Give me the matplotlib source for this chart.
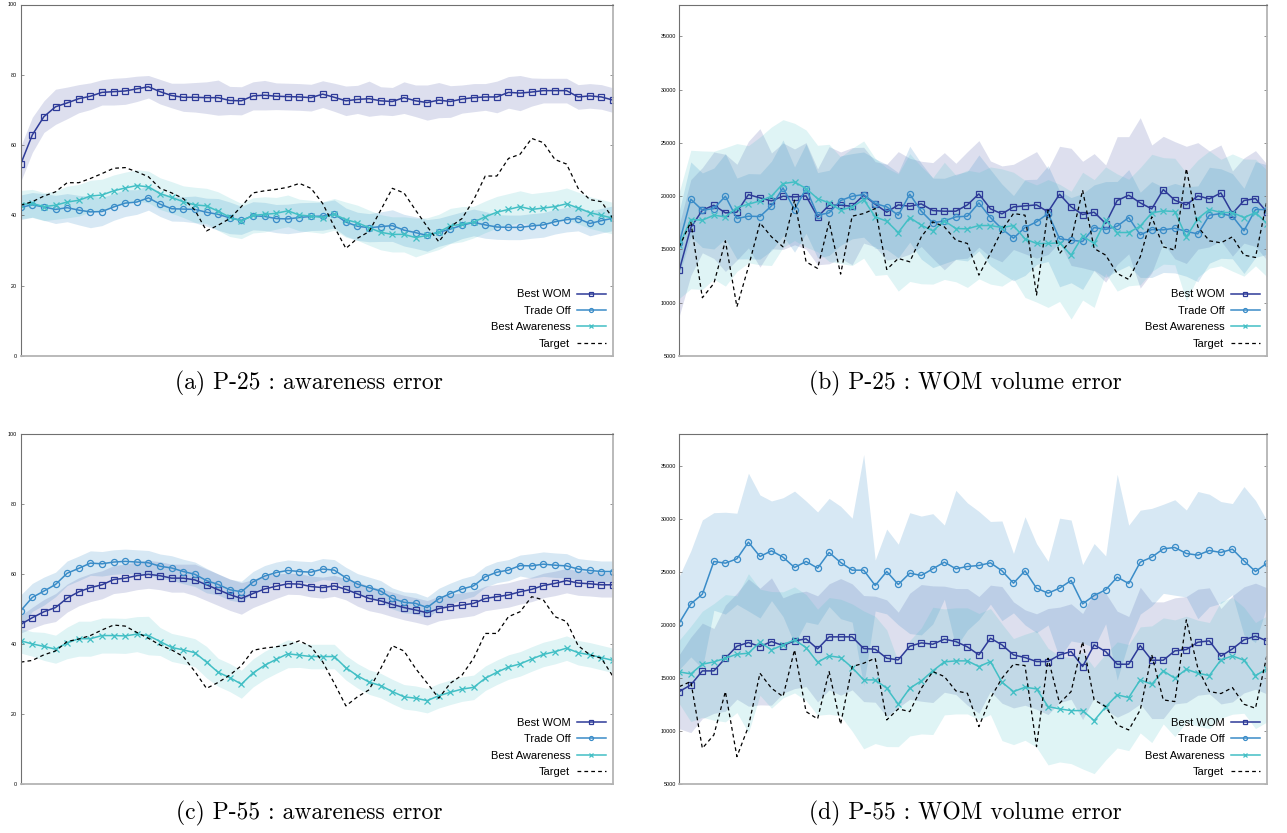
import matplotlib.pyplot as plt
import numpy as np

plt.rcParams['font.family'] = 'Liberation Sans'
plt.rcParams['font.size'] = 8
plt.rcParams['axes.linewidth'] = 0.8

steps = np.arange(52)

# ---- (a) P-25 : awareness error
a_wom = [54.6, 62.9, 68.1, 70.9, 72.0, 73.2, 73.9, 75.0, 75.2, 75.4, 76.0, 76.6, 75.2, 74.1, 73.6, 73.6, 73.5, 73.5, 72.7, 72.6,
         74.0, 74.2, 73.9, 73.8, 73.7, 73.5, 74.5, 73.6, 72.6, 73.0, 73.2, 72.6, 72.4, 73.5, 72.6, 72.1, 72.8, 72.4, 73.1, 73.5,
         73.7, 73.7, 75.0, 74.8, 75.1, 75.5, 75.5, 75.5, 73.7, 74.0, 73.7, 72.8]
a_trade = [42.3, 43.0, 42.4, 41.7, 42.2, 41.5, 41.0, 41.1, 42.4, 43.5, 43.8, 45.0, 43.2, 41.9, 41.8, 41.7, 40.9, 40.3, 39.3, 38.6,
           39.9, 39.7, 39.1, 39.0, 39.4, 39.7, 39.8, 40.4, 38.1, 36.9, 36.5, 36.8, 37.1, 35.8, 35.1, 34.3, 35.2, 36.1, 37.2, 38.0,
           37.3, 36.7, 36.6, 36.6, 37.0, 37.3, 38.2, 38.8, 39.1, 37.7, 38.5, 39.2]
a_aware = [43.1, 43.4, 42.5, 42.9, 43.8, 44.3, 45.5, 45.8, 47.0, 47.8, 48.5, 48.1, 46.2, 45.1, 43.9, 43.0, 42.7, 41.2, 39.5, 38.4,
           40.0, 40.3, 40.6, 41.3, 40.1, 39.8, 39.4, 40.3, 38.8, 37.9, 36.5, 35.2, 34.6, 34.6, 33.7, 34.3, 35.3, 37.0, 37.5, 38.1,
           39.6, 40.9, 41.7, 42.5, 41.7, 42.1, 42.5, 43.3, 42.1, 40.8, 40.0, 39.2]
a_target = [42.9, 43.9, 45.5, 46.7, 49.3, 49.3, 50.5, 51.9, 53.4, 53.6, 52.4, 51.0, 47.7, 46.4, 44.8, 41.5, 35.6, 37.2, 39.1, 42.5,
            46.4, 47.0, 47.4, 48.0, 49.1, 47.7, 43.4, 36.8, 30.6, 33.5, 35.4, 41.5, 47.7, 46.4, 41.5, 36.8, 32.5, 36.8, 39.1, 44.4,
            51.2, 51.2, 56.2, 57.4, 61.9, 60.7, 55.9, 54.6, 47.7, 44.5, 43.9, 39.1]
a_wom_sd = [5.0, 5.0, 4.5, 5.0, 4.5, 4.0, 3.8, 3.6, 3.8, 3.8, 3.6, 3.2, 3.5, 3.5, 4.0, 4.2, 4.5, 5.0, 4.0, 4.0,
            4.0, 4.2, 3.8, 3.8, 3.8, 3.8, 3.8, 4.0, 4.2, 4.0, 5.0, 4.0, 4.0, 4.5, 4.5, 5.0, 5.0, 4.5, 4.0, 4.0,
            3.8, 4.5, 4.5, 5.0, 4.0, 3.5, 3.5, 3.5, 3.5, 3.5, 3.5, 3.5]
a_trade_sd = [3.5, 3.5, 3.8, 4.0, 4.0, 4.2, 4.5, 4.0, 3.8, 3.8, 3.5, 3.5, 3.5, 3.5, 3.5, 3.8, 4.0, 4.5, 4.5, 4.0,
              4.0, 4.0, 4.0, 4.2, 4.2, 4.0, 4.0, 4.0, 4.0, 4.0, 4.0, 4.2, 4.5, 4.5, 4.5, 4.5, 4.0, 4.0, 3.8, 3.8,
              3.8, 3.5, 3.5, 3.5, 3.5, 3.5, 3.5, 3.5, 3.5, 3.5, 3.5, 3.5]
a_aware_sd = [4.0, 4.0, 4.0, 4.0, 4.5, 4.5, 4.5, 4.5, 4.5, 4.5, 4.5, 4.5, 4.5, 4.5, 4.5, 5.0, 5.0, 5.5, 5.5, 5.0,
              5.0, 5.0, 4.5, 4.5, 4.5, 4.5, 4.5, 4.5, 5.0, 5.0, 5.0, 5.0, 5.0, 5.0, 5.5, 5.0, 5.0, 5.0, 5.0, 4.5,
              4.5, 4.5, 4.5, 4.5, 4.5, 4.5, 4.5, 4.5, 4.5, 4.5, 4.5, 4.5]

# ---- (b) P-25 : WOM volume error
b_wom = [13063, 17063, 18688, 19156, 18438, 18500, 20156, 19844, 19563, 20000, 19938, 20031, 18063, 19156, 19156, 19063, 20094,
         19250, 18500, 19188, 19063, 19281, 18656, 18594, 18594, 19188, 20219, 18813, 18344, 19000, 19094, 19188, 18531, 20188,
         19000, 18281, 18500, 17438, 19594, 20094, 19375, 18813, 20625, 19625, 19188, 20031, 19750, 20313, 18375, 19594, 19781, 18500]
b_trade = [15625, 19719, 18688, 18844, 20000, 17906, 18125, 18094, 19094, 20781, 18750, 20719, 18219, 18438, 19594, 20000, 20156,
           19313, 19000, 18219, 20188, 18594, 17500, 17688, 18063, 18125, 19375, 18000, 16938, 16063, 17063, 17594, 18375, 16000,
           15875, 15750, 17063, 16875, 17188, 18000, 16375, 16875, 16844, 17000, 16688, 16469, 18219, 18375, 18125, 16750, 18750, 18750]
b_aware = [15406, 17813, 17750, 18219, 18063, 18938, 19250, 19563, 20000, 21188, 21344, 20719, 19781, 19375, 18688, 19000, 19688,
           18063, 17656, 16594, 18000, 17281, 16750, 17688, 16969, 16938, 17250, 17250, 17063, 17250, 16000, 15563, 15563, 15625,
           14469, 16250, 15563, 17750, 16594, 16594, 17188, 18438, 18625, 18563, 16188, 17906, 18750, 18469, 18469, 18000, 18469, 17438]
b_target = [15250, 17594, 10469, 11813, 15813, 9625, 13375, 17500, 16188, 15250, 19625, 13844, 13219, 17594, 12688, 18125, 18375,
            18844, 13125, 14156, 13844, 16188, 17594, 17125, 15875, 15563, 12594, 14625, 16813, 18375, 18219, 10719, 18688, 14625,
            15875, 20563, 15094, 14469, 12750, 12188, 14313, 18063, 15250, 14938, 22594, 17125, 15813, 15625, 16188, 14469, 14250, 19625]
b_wom_sd = [4300, 4500, 4000, 5000, 5500, 4500, 5000, 6500, 4500, 5000, 4500, 5000, 4500, 5500, 5000, 5500, 4500, 4000, 4500, 5000,
            4500, 4000, 4500, 5500, 4500, 5000, 5000, 4500, 4500, 4000, 4500, 5000, 4000, 4500, 5500, 5000, 5500, 5500, 6000, 5500,
            8000, 6000, 5000, 5500, 5500, 5000, 4500, 4500, 4000, 4000, 4500, 4500]
b_trade_sd = [3000, 3500, 3500, 3800, 4000, 3800, 4000, 4000, 4200, 4500, 4000, 4200, 4000, 4000, 4200, 4000, 4000, 4200, 4000, 4000,
              4500, 4500, 4200, 4000, 4000, 4200, 4500, 4500, 4200, 4000, 4500, 4000, 4500, 4500, 4000, 4500, 4000, 4500, 4200, 4500,
              4000, 4500, 4000, 4200, 4200, 4500, 4500, 4200, 4000, 4000, 4500, 4200]
b_aware_sd = [5000, 6500, 6500, 6000, 6500, 6000, 5500, 6000, 6500, 6000, 5500, 5500, 5000, 5500, 5000, 5500, 5500, 5500, 5000, 5500,
              6000, 5500, 5000, 5500, 5000, 5500, 5000, 5500, 5500, 5000, 5500, 5500, 6000, 5500, 6000, 6000, 6000, 5000, 5500, 5000,
              5500, 5500, 5000, 5000, 6000, 5500, 5500, 5000, 5500, 5500, 5000, 5000]

# ---- (c) P-55 : awareness error
c_wom = [45.7, 47.6, 49.3, 50.5, 53.2, 55.0, 56.2, 57.0, 58.5, 58.9, 59.6, 60.0, 59.6, 58.9, 58.9, 58.4, 57.0, 55.6, 54.2, 53.1,
         54.5, 55.8, 56.6, 57.3, 57.2, 56.5, 56.2, 56.7, 55.7, 54.4, 53.1, 52.4, 51.4, 50.5, 49.8, 49.0, 50.2, 50.8, 51.2, 51.7,
         53.1, 53.6, 54.1, 55.0, 55.7, 56.8, 57.4, 58.2, 57.5, 57.3, 57.0, 57.0]
c_trade = [49.6, 53.4, 55.2, 57.1, 60.3, 61.7, 63.2, 63.0, 63.5, 63.7, 63.5, 63.3, 62.3, 61.8, 60.8, 60.0, 58.2, 57.1, 55.6, 55.0,
           57.8, 59.5, 60.5, 61.1, 60.8, 60.6, 61.5, 61.2, 59.0, 57.2, 56.2, 55.2, 53.1, 52.0, 51.7, 50.5, 53.0, 54.5, 55.8, 56.7,
           59.3, 60.6, 61.2, 62.5, 62.4, 62.9, 62.6, 62.4, 61.5, 61.1, 60.8, 60.8]
c_aware = [41.0, 40.1, 39.4, 38.6, 40.4, 41.6, 41.6, 42.5, 42.5, 42.4, 42.9, 42.5, 40.8, 39.1, 38.4, 37.6, 34.9, 32.0, 30.5, 28.6,
           31.8, 34.0, 35.7, 37.3, 36.9, 36.5, 36.5, 36.5, 33.3, 31.0, 29.2, 28.2, 26.5, 25.0, 24.6, 23.9, 25.3, 26.3, 27.2, 27.7,
           30.3, 32.0, 33.5, 34.4, 35.8, 37.1, 37.9, 38.9, 37.6, 37.0, 36.2, 35.4]
c_target = [34.9, 35.4, 37.0, 38.1, 40.8, 41.5, 42.5, 44.1, 45.5, 45.2, 43.4, 41.7, 39.8, 38.4, 36.5, 32.2, 27.4, 29.1, 31.2, 33.9,
            38.3, 38.9, 39.3, 39.8, 41.0, 39.3, 35.0, 28.9, 22.4, 25.0, 27.0, 33.1, 39.6, 38.1, 33.1, 28.9, 24.6, 28.9, 31.2, 36.0,
            43.1, 43.1, 47.9, 49.3, 53.6, 52.7, 47.9, 46.5, 39.6, 37.0, 36.0, 30.8]
c_wom_sd = [2.5, 3.0, 3.5, 4.0, 4.0, 4.0, 4.0, 4.0, 4.0, 4.0, 4.0, 4.0, 4.0, 4.0, 4.0, 4.5, 4.5, 4.5, 4.5, 4.5,
            4.0, 4.0, 3.5, 3.0, 3.0, 3.0, 3.0, 3.0, 3.0, 3.5, 3.5, 3.5, 3.5, 3.5, 3.5, 3.5, 3.5, 3.5, 3.5, 3.5,
            3.5, 3.5, 3.5, 3.5, 3.5, 3.5, 3.5, 3.5, 3.5, 3.5, 3.5, 3.5]
c_trade_sd = [4.5, 4.0, 4.0, 3.5, 3.5, 3.5, 3.5, 3.5, 3.5, 3.5, 3.5, 3.5, 3.5, 3.5, 3.5, 3.5, 3.5, 3.0, 3.0, 3.0,
              3.0, 3.0, 3.0, 3.0, 3.0, 3.0, 3.0, 3.0, 3.0, 3.0, 3.0, 3.0, 3.0, 3.0, 3.0, 3.0, 3.0, 3.0, 3.0, 3.0,
              3.0, 3.0, 3.0, 3.0, 3.5, 3.5, 3.5, 3.5, 3.0, 3.0, 3.0, 3.0]
c_aware_sd = [3.5, 3.5, 4.0, 4.0, 4.5, 5.0, 5.0, 5.0, 5.0, 5.0, 5.0, 5.5, 4.0, 4.0, 4.0, 4.0, 4.5, 4.0, 4.0, 4.0,
              4.0, 4.0, 4.0, 4.0, 3.5, 3.5, 3.5, 3.5, 3.5, 3.5, 3.5, 3.5, 3.5, 3.5, 3.5, 3.5, 3.5, 3.5, 3.5, 3.5,
              3.5, 3.5, 3.5, 3.5, 3.5, 3.5, 3.5, 3.5, 3.5, 3.5, 3.5, 3.5]

# ---- (d) P-55 : WOM volume error
d_wom = [13743, 14372, 15693, 15693, 16888, 18020, 18366, 17989, 18461, 18083, 18524, 18712, 17769, 18901, 18901, 18901, 17800,
         17737, 16888, 16731, 18020, 18335, 18209, 18681, 18461, 17957, 17203, 18775, 18146, 17203, 16951, 16574, 16574, 17203,
         17517, 16102, 18146, 17517, 16322, 16322, 18083, 16699, 16699, 17580, 17706, 18398, 18524, 17077, 17769, 18618, 18964, 18524]
d_trade = [20222, 22014, 22927, 26009, 25851, 26260, 27833, 26480, 27015, 26417, 25443, 26009, 25380, 26858, 25914, 25191, 25191,
           23744, 25065, 23839, 24908, 24688, 25317, 25946, 25317, 25537, 25631, 25883, 25128, 23964, 25128, 23493, 23021, 23493,
           24216, 22014, 22801, 23335, 24530, 23932, 25946, 26417, 27204, 27330, 26763, 26606, 27046, 26858, 27172, 26072, 25065, 25851]
d_aware = [15598, 15410, 16322, 16542, 16888, 17266, 17360, 18398, 17674, 18146, 18618, 17894, 16511, 17108, 16951, 16008, 14844,
           14844, 14058, 12548, 14058, 14750, 15693, 16542, 16637, 16637, 16102, 16574, 14624, 13743, 14152, 13995, 12328, 12108,
           11950, 11950, 11007, 12296, 13429, 13177, 14844, 14435, 15693, 15001, 15850, 15473, 15253, 16731, 17108, 16699, 15253, 15882]
d_target = [14215, 14687, 8397, 9655, 13743, 7610, 10441, 15473, 14058, 13271, 17674, 11856, 11164, 15630, 10661, 16102, 16417,
            16888, 11070, 12108, 11856, 14058, 15630, 15159, 13806, 13586, 10441, 13114, 15001, 16322, 16196, 8554, 16888, 12643,
            13743, 18461, 12957, 12328, 10598, 10126, 12013, 17203, 12957, 12800, 20505, 15945, 13743, 13554, 14120, 12548, 12171, 17203]
d_wom_sd = [3500, 4500, 4500, 4000, 5000, 5000, 6000, 5500, 6000, 4500, 4500, 4500, 5000, 5000, 5500, 5000, 5000, 5000, 5500, 4500,
            5000, 5500, 5500, 5000, 5000, 5500, 5500, 5000, 5500, 5000, 4500, 4500, 5000, 4500, 4500, 5000, 5000, 5500, 5000, 4500,
            5500, 5500, 5500, 5000, 5000, 5000, 5000, 4500, 5000, 5000, 5000, 5000]
d_trade_sd = [4400, 5000, 7000, 4600, 4800, 4300, 6500, 5800, 4700, 5600, 7200, 5700, 5300, 5100, 5300, 4900, 10900, 2400, 4000, 3800,
              5700, 5600, 5200, 3500, 7400, 6000, 5100, 3900, 4700, 2800, 5100, 4200, 3000, 6600, 5700, 3700, 4900, 3200, 9700, 5500,
              4900, 4600, 4200, 4500, 4100, 6000, 5300, 4800, 4300, 7000, 6700, 4000]
d_aware_sd = [3000, 4500, 5000, 5500, 6000, 5500, 7500, 5000, 5500, 5000, 5000, 5000, 5000, 5500, 5500, 6000, 6500, 6000, 5500, 4000,
              4500, 5000, 6000, 5000, 5000, 5000, 5000, 5000, 5500, 5000, 5000, 5500, 5500, 5000, 5000, 5500, 5000, 5000, 5000, 5000,
              5000, 5500, 5000, 5500, 5000, 5000, 5000, 5500, 5500, 5000, 5000, 5000]

labels = ['Best WOM', 'Trade Off', 'Best Awareness', 'Target']
col_wom, col_trade, col_aware = '#2e3b98', '#3a8cc8', '#42bfc5'


def plot_panel(ax, wom, trade, aware, target, wom_sd, trade_sd, aware_sd, ylim, yticks):
    series = [(wom, wom_sd, col_wom, 's', 0.16), (trade, trade_sd, col_trade, 'o', 0.2),
              (aware, aware_sd, col_aware, 'x', 0.17)]
    for vals, sd, c, _, a in series:
        vals, sd = np.array(vals, float), np.array(sd, float)
        ax.fill_between(steps, vals - sd, vals + sd, color=c, alpha=a, lw=0)
    for (vals, sd, c, m, _), lab in zip(series, labels):
        ax.plot(steps, vals, color=c, lw=1.1, marker=m, ms=4.4, mew=0.9,
                mfc='none', label=lab)
    ax.plot(steps, target, color='black', lw=0.9, ls=(0, (3, 2.5)), label=labels[3])
    ax.set_xlim(0, 51)
    ax.set_ylim(*ylim)
    ax.set_yticks(yticks)
    ax.set_xticks([])
    ax.tick_params(axis='y', direction='in', length=2.5, width=0.5, color='#666666',
                   right=True, labelsize=3.9, pad=2.5)
    for s in ['left', 'top']:
        ax.spines[s].set_color('#707070')
        ax.spines[s].set_linewidth(0.8)
    for s in ['right', 'bottom']:
        ax.spines[s].set_color('#b4b4b4')
        ax.spines[s].set_linewidth(1.3)
    ax.legend(loc='lower right', frameon=False, markerfirst=False, fontsize=8,
              handlelength=2.6, labelspacing=0.58, markerscale=0.65,
              handletextpad=0.6, borderaxespad=0.25)


fig = plt.figure(figsize=(12.87, 8.33), dpi=100)
W, H = 1287.0, 833.0
ax_a = fig.add_axes([20.7 / W, 1 - 356 / H, 592.3 / W, 351.5 / H])
ax_b = fig.add_axes([679.3 / W, 1 - 356 / H, 587.7 / W, 351.5 / H])
ax_c = fig.add_axes([20.7 / W, 1 - 784.3 / H, 592.3 / W, 350 / H])
ax_d = fig.add_axes([679.3 / W, 1 - 784.3 / H, 587.7 / W, 350 / H])

pct_ticks = [0, 20, 40, 60, 80, 100]
vol_ticks = [5000, 10000, 15000, 20000, 25000, 30000, 35000]
plot_panel(ax_a, a_wom, a_trade, a_aware, a_target, a_wom_sd, a_trade_sd, a_aware_sd, (0, 100), pct_ticks)
plot_panel(ax_b, b_wom, b_trade, b_aware, b_target, b_wom_sd, b_trade_sd, b_aware_sd, (5000, 38000), vol_ticks)
plot_panel(ax_c, c_wom, c_trade, c_aware, c_target, c_wom_sd, c_trade_sd, c_aware_sd, (0, 100), pct_ticks)
plot_panel(ax_d, d_wom, d_trade, d_aware, d_target, d_wom_sd, d_trade_sd, d_aware_sd, (5000, 38000), vol_ticks)

captions = ['(a) P-25 : awareness error', '(b) P-25 : WOM volume error',
            '(c) P-55 : awareness error', '(d) P-55 : WOM volume error']
cap_pos = [(309, 383), (965, 383), (309, 813), (965, 813)]
for txt, (cx, cy) in zip(captions, cap_pos):
    fig.text(cx / W, 1 - cy / H, txt, ha='center', va='center', fontfamily='cmr10', fontsize=17)

fig.savefig('out.png', dpi=100)
